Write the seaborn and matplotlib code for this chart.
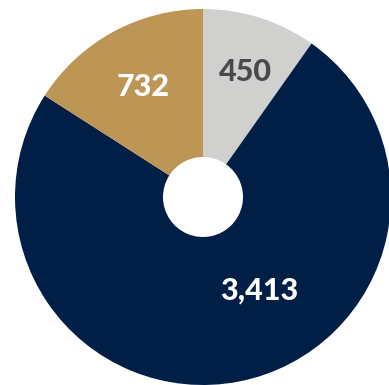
import matplotlib
matplotlib.use("Agg")
import matplotlib.pyplot as plt
import seaborn as sns
import numpy as np

sns.set_theme(style="white")
plt.rcParams['font.family'] = ['Lato', 'DejaVu Sans']

categories = ["A", "B", "C"]
values = [450, 3413, 732]
labels = ["450", "3,413", "732"]
colors = ["#d0d0ce", "#001f47", "#bd9555"]
text_colors = ["#4a4a4a", "#ffffff", "#ffffff"]
# label placement (radius fraction, angle offset in degrees from wedge middle)
label_r = [0.70, 0.58, 0.665]
label_off = [-1.0, 20.0, 0.0]

W, H = 389, 385
fig = plt.figure(figsize=(W / 100, H / 100), dpi=100)
ax = fig.add_axes([0, 0, 1, 1])
R = 188
cx, cy = 203, 188
wedges, _ = ax.pie(values, colors=colors, startangle=90, counterclock=False,
                   radius=R, center=(0, 0),
                   wedgeprops=dict(width=R - 40, linewidth=0))
for w, lab, tc, lr, off in zip(wedges, labels, text_colors, label_r, label_off):
    mid = np.deg2rad((w.theta1 + w.theta2) / 2 + off)
    ax.text(lr * R * np.cos(mid), lr * R * np.sin(mid), lab, ha="center", va="center",
            fontsize=22, fontweight=900, color=tc)
ax.set_xlim(-cx, W - cx)
ax.set_ylim(-cy, H - cy)
ax.set_aspect("auto")
ax.axis("off")
fig.savefig("out.png", dpi=100)
